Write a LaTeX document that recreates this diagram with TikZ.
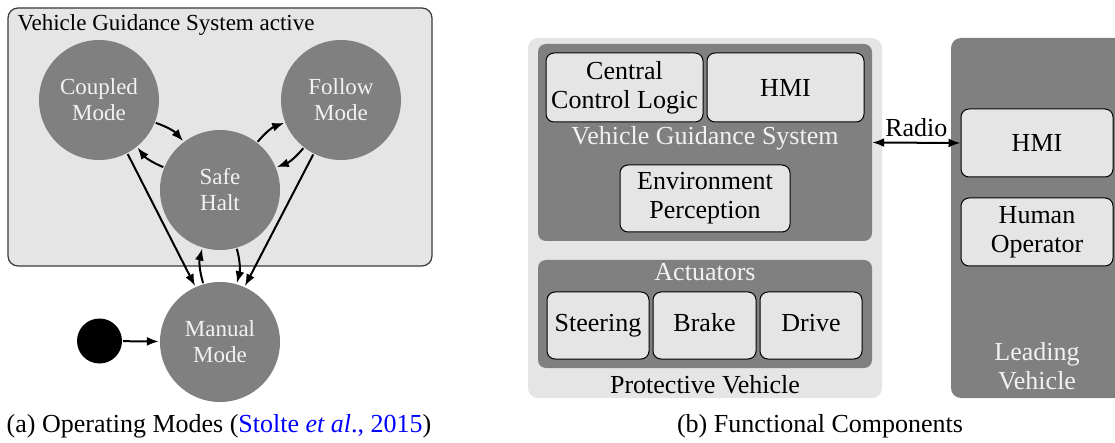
\documentclass[tikz,border=0pt]{standalone}
\usepackage{fontspec}
\setmainfont{Liberation Serif}
\usepackage{tikz}
\usetikzlibrary{positioning,arrows.meta,shapes}
\usepackage{xcolor}
\definecolor{darkbox}{HTML}{808080}
\definecolor{lightbox}{HTML}{E5E5E5}
\definecolor{paletext}{HTML}{F2F2F2}
\definecolor{framegray}{HTML}{3A3A3A}

\begin{document}
\begin{tikzpicture}[x=1pt,y=-1pt,
    mode/.style={circle,fill=darkbox,text=paletext,minimum size=120pt,inner sep=0pt,align=center,font=\fontsize{23}{26}\selectfont},
    part/.style={draw=black,line width=1pt,fill=lightbox,rounded corners=8pt,inner sep=0pt,align=center,font=\fontsize{26}{29}\selectfont},
    actuator/.style={part,minimum width=102pt,minimum height=67pt,text height=18pt,text depth=6pt},
    group/.style={fill=darkbox,rounded corners=8pt,inner sep=0pt},
    big/.style={font=\fontsize{26}{29}\selectfont,align=center},
    trans/.style={-{Latex[length=12pt,width=9pt]},line width=2pt,shorten <=1pt,shorten >=1pt}]
            \useasboundingbox (0,0) rectangle (1115,443);

            % operating modes
            \draw[draw=framegray,fill=lightbox,line width=1.2pt,rounded corners=10pt] (8,8) rectangle (432,266);
            \node[anchor=west,font=\fontsize{23}{26}\selectfont] (title) at (14,25) {Vehicle Guidance System active};

            \node[mode] (coupled) at (99,100)  {Coupled\\Mode};
            \node[mode] (follow)  at (341,100) {Follow\\Mode};
            \node[mode] (safe)    at (220,190) {Safe\\Halt};
            \node[mode] (manual)  at (220,342) {Manual\\Mode};
            \node[circle,fill=black,minimum size=45pt,inner sep=0pt] (init) at (99.5,341) {};

            \begin{scope}[trans]
                \draw (coupled.-22) to[bend left=15] (safe.127);
                \draw (safe.158)    to[bend left=15] (coupled.-51);
                \draw (safe.52)     to[bend left=15] (follow.202);
                \draw (follow.-128) to[bend left=15] (safe.22);
                \draw (coupled.-62) -- (manual.114);
                \draw (follow.-117) -- (manual.66);
                \draw (manual.106)  to[bend left=15] (safe.-107);
                \draw (safe.-74)    to[bend left=15] (manual.74);
                \draw (init) -- (manual);
            \end{scope}

            \node[big] (capa) at (219,426) {(a) Operating Modes (\textcolor{blue}{Stolte \textit{et al}., 2015})};

            % functional components
            \node[fill=lightbox,rounded corners=10pt,minimum width=354pt,minimum height=360pt,inner sep=0pt] (pv) at (705,218) {};
            \node[group,minimum width=334pt,minimum height=197pt] (vgs) at (705,142.5) {};
            \node[group,minimum width=334pt,minimum height=108pt] (act) at (705,314) {};

            \node[part,minimum width=157pt,minimum height=69pt] (ccl)   at (624.5,87.5) {Central\\Control Logic};
            \node[part,minimum width=157pt,minimum height=69pt] (hmi)   at (785.5,87.5) {HMI};
            \node[big,text=paletext]                            (vgst)  at (705,138)    {Vehicle Guidance System};
            \node[part,minimum width=170pt,minimum height=67pt] (env)   at (705,198.5)  {Environment\\Perception};

            \node[big,text=paletext]                    (actt)  at (705,272)     {Actuators};
            \node[actuator]                             (steer) at (598,325.5)   {Steering};
            \node[actuator,minimum width=103pt]         (brake) at (704.5,325.5) {Brake};
            \node[actuator]                             (drive) at (811,325.5)   {Drive};
            \node[big]                                  (pvt)   at (705,385)     {Protective Vehicle};

            \node[group,rounded corners=10pt,minimum width=174pt,minimum height=360pt] (lv) at (1038,218) {};
            \node[part,minimum width=152pt,minimum height=68pt] (lhmi) at (1037,143) {HMI};
            \node[part,minimum width=152pt,minimum height=68pt] (op)   at (1037,232) {Human\\Operator};
            \node[big,text=paletext]                            (lvt)  at (1037,366) {Leading\\Vehicle};

            \draw[{Latex[length=12pt,width=9pt]}-{Latex[length=12pt,width=9pt]},line width=2pt]
                (vgs.east) -- node[big,above=2pt] {Radio} (lhmi.west);

            \node[big] (capb) at (820,426) {(b) Functional Components};
        \end{tikzpicture}
\end{document}
